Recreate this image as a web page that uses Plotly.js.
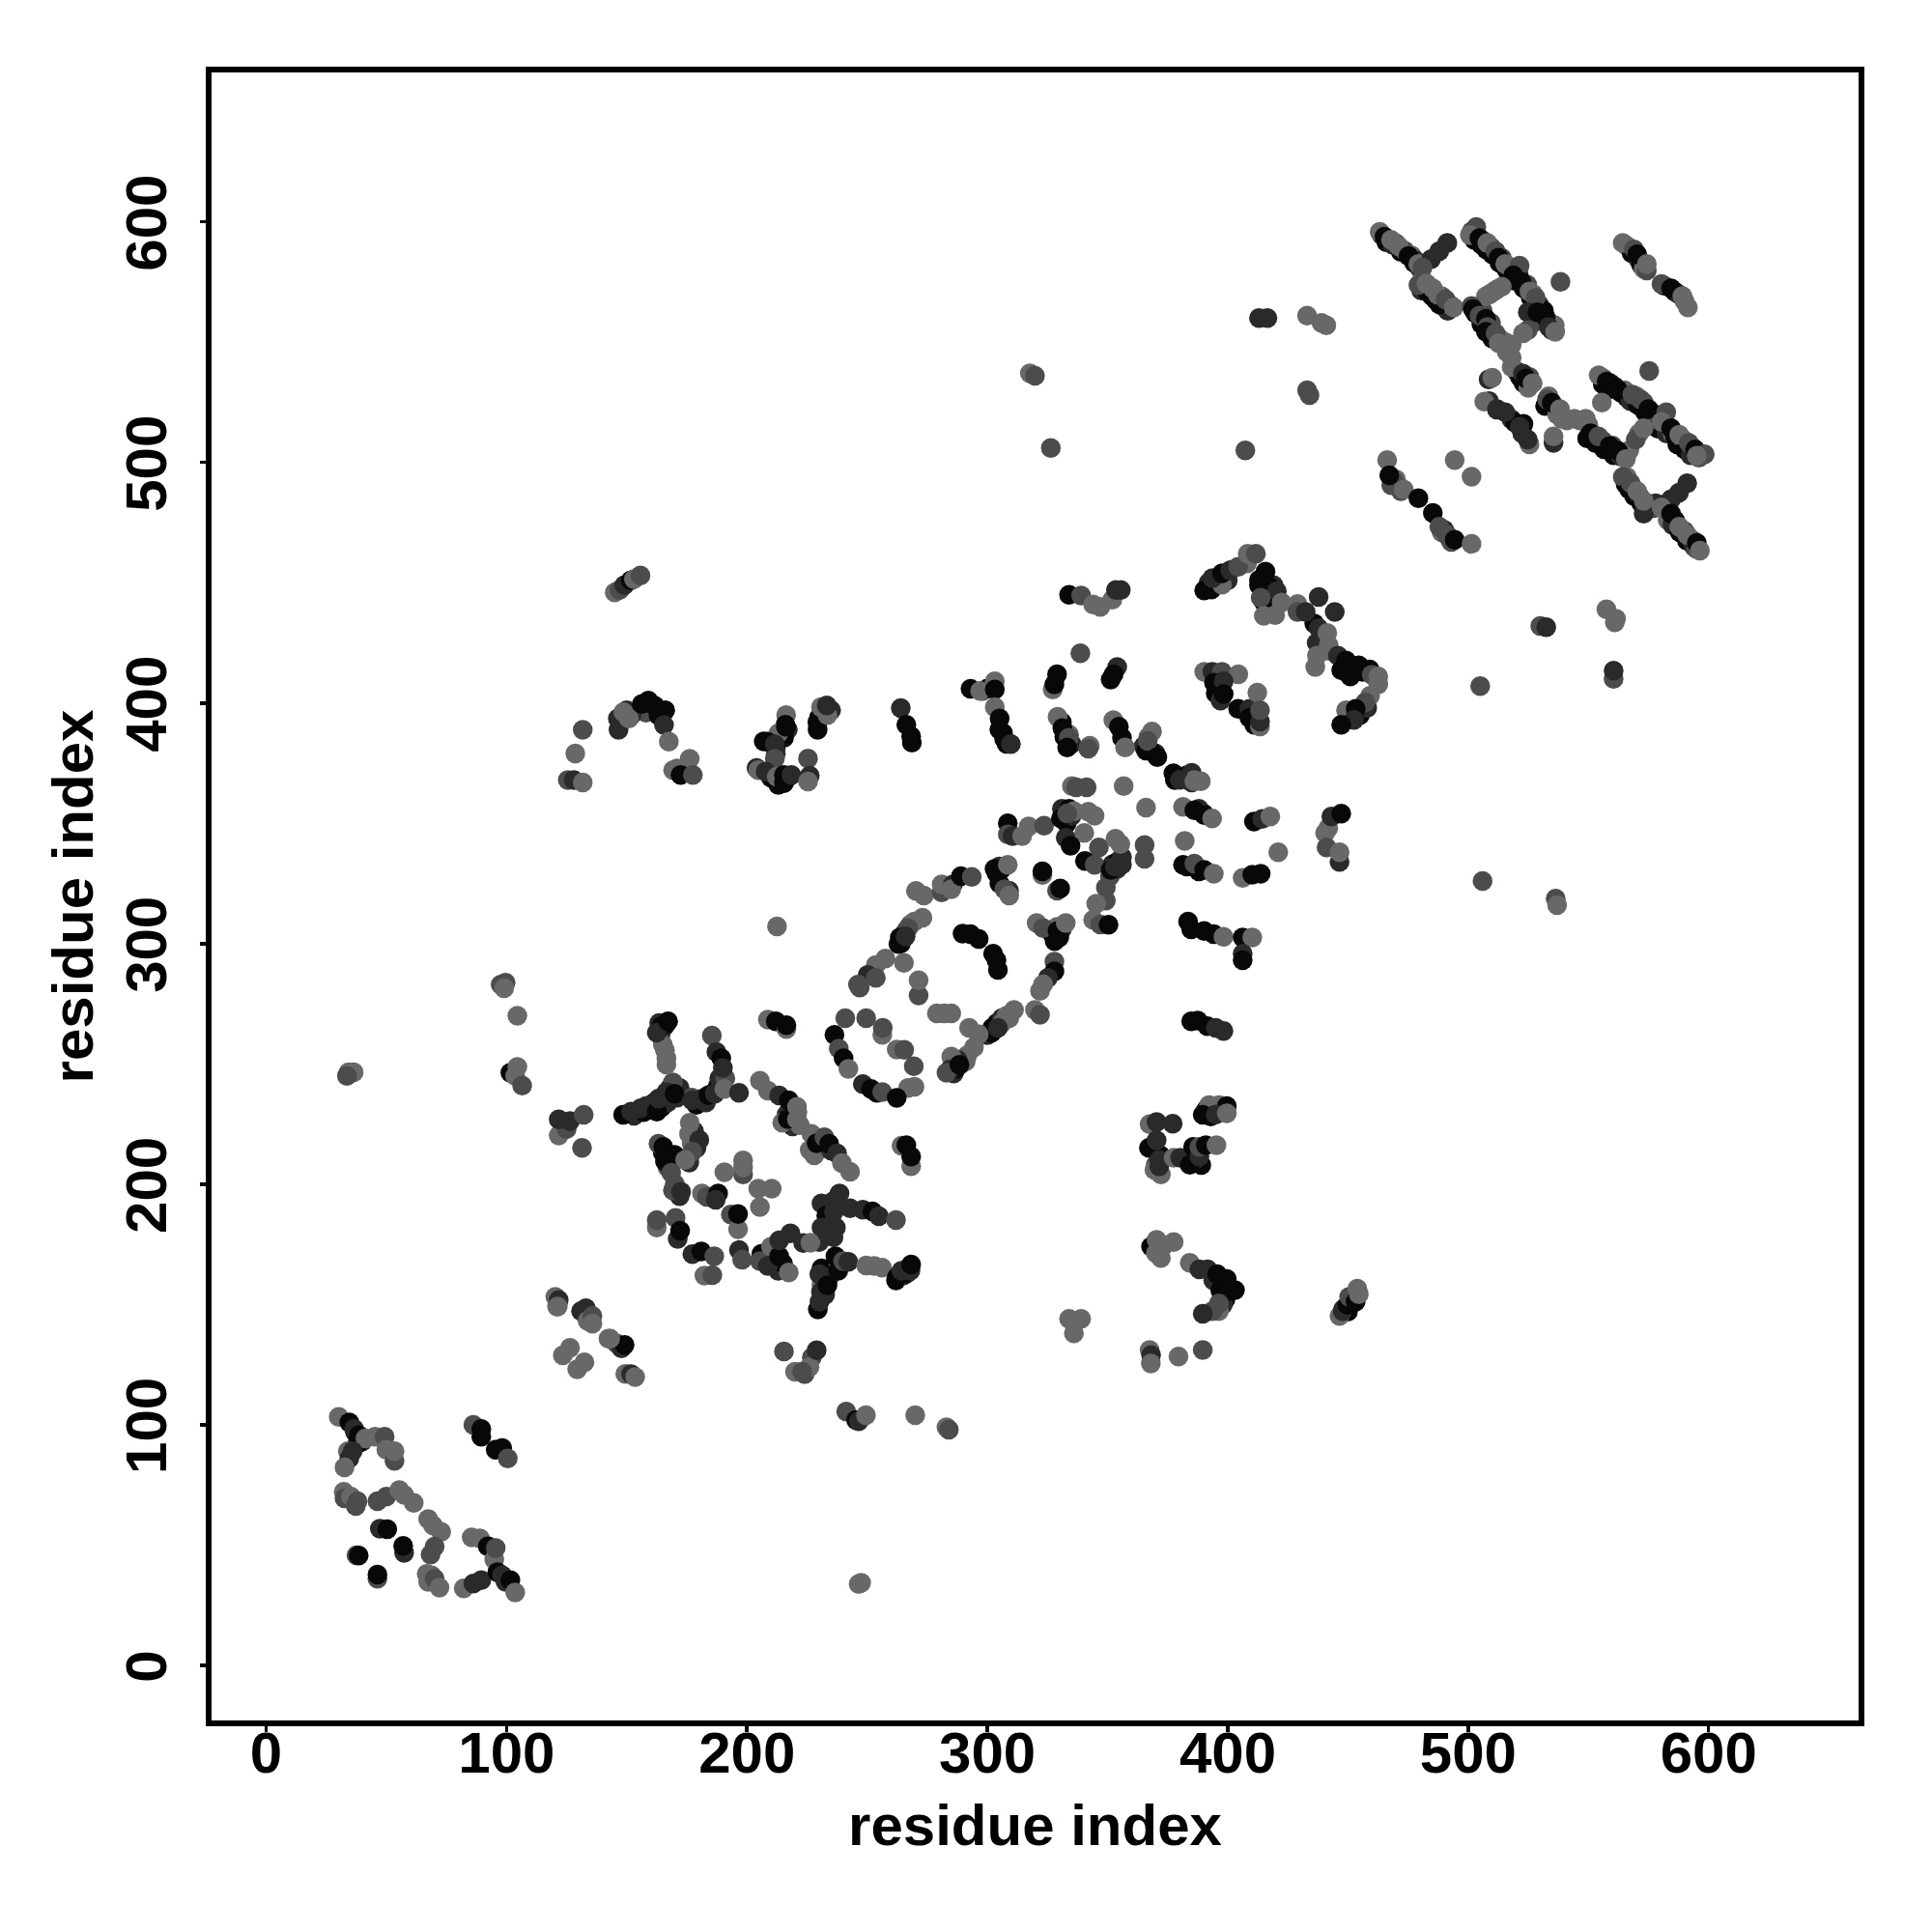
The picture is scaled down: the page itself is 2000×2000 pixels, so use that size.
<!DOCTYPE html>
<html><head><meta charset="utf-8">
<script src="https://cdn.plot.ly/plotly-3.0.1.min.js"></script>
<style>html,body{margin:0;padding:0;background:#fff}</style></head>
<body><div id="chart" style="width:2000px;height:2000px"></div>
<script>
// each entry: residue i, residue j, shade index (0 black .. 3 grey)
const shadeColors = ['#080808','#2a2a2a','#4c4c4c','#686868'];
const xTicks = [0,100,200,300,400,500,600];
const yTicks = [0,100,200,300,400,500,600];
const denseLower = [
[37,97,0],[40,93,1],[38,92,0],[153,228.5,1],[157,230,0],[158,232.5,1],[160,231,0],[161.5,234,0],[164.5,232,0],[165,236,1],[167,234,1],[168,240,0],[171,238,0],[171,236,1],[172,240,1],
[164.5,264,0],[163.5,267,1],[166,266,0],[164,262,1],[165,258,3],[179,233,0],[183,234,1],[186,238,0],[188,241,0],[188.5,244,1],[191,244,2],[177,236,2],
[165,213,0],[167,210,0],[167,207,2],[172,195,1],[170,200,2],[178,222,1],[177,217,3],[179,215,1],[176,209,1],
[218,232,0],[216.5,229,1],[221,230,3],[219,224,1],[222,224.5,3],[230,214.5,1],[232,216,0],[228,212,3],[235,214,1],[231,219,3],
[231,192,1],[235,186,1],[232.5,183,0],[230,176,1],[236,193,1],[233,187,0],[237,182,1],[231,182,1],[236,178,1],
[231,165,0],[232,160,0],[235,165,0],[232.5,154,1],[234,161,1],[238,166,1],[238,168,3],[231,158,3],[262,160,0],[265,162,1],[266.5,163,0],[268,164,1],
[206,171,0],[208,170,0],[211,168,0],[213,164,1],[215,167,0]
];
const denseMiddle = [
[264,300,0],[266,305,2],[265,302,1],[268,308,3],[289,250,1],[286,246,1],[287,248,0],[291,251,3],[304,267,0],[306,269,1],[302,265,0],[308,270,3],[300,262,1],
[309,322,1],[305,325,0],[305,332,1],[303,331,0],[329,307,3],[327,304,0],[331,306,1],[328,301,0],[352,333,1],[354,334,0],[351,328,2],[354,331,1],[356,336,1],[333,350,0],[335,353,1],[331,356,1],[334,356,0],[336,355,3],
[391,231,0],[394,230,3],[393,232,1],[397,231,0],[449,413,1],[452,414,0],[451,411,0],[456,413,0],[459,414,0],[413,449,0],[416,446,1],[419,449,1],[415,442,0],[408,458,3],[400,451,1],[396,450,0],[392,450,1],[455,395,0],[451,394,0],[458,398,1],[440,428,3],[437,425,1],[436,433,0],[442,424,3],
[395,404,0],[397,401,1],[411,391,0],[394,410,3],[408,396,1],[385,367,1],[378,368,0],[383,370,0],[385,371,1],[386,368,3],[390,354,0],[388,356,1],[383,332,0],[388,330,0],[370,379,1],[368,380,0],[367,386,3],[365,382,1],
[403,156,0],[398,158,0],[397,160,0],[394,160,1],[399,152,0],[398,150,1],[450,147,0],[451,150,0],[448,148,1],[389,208,0],[385,212,1],[388,214,0],[386,210,1],[369,216,1],[372,212,0],[370,208,2],[369.5,206,3],
[213,385,1],[212,381,1],[210,384,1],[217,389,1],[230,394,0],[232,397,1],[235,397,1],[331,392,0],[332,386,0],[335,383,1],[334,387,3],[298,405,2],[300,406,0],[305,389,0],[307,385,0],[166,397,0],[159,401,0],[158,396,2],[152,395,1],[150,397,1],[207,384,0],[204,373,1],[210,369,0],[213,366,0],[210,371,0]
];
const denseSheets = [
[464,594.5,1],[466,591.5,0],[468.5,590.5,1],[470,591,2],[472,587.5,0],[473.5,588,2],[476.5,586,3],[477.5,583,0],[478,584,1],[480,580.5,1],
[480.5,571.5,1],[481,576,3],[483,571,0],[484,573,2],[485,569,0],[486.5,567.5,0],[489,569,2],[489.5,565,0],[491.5,563,1],[492.5,565.5,3],
[501.5,596,2],[502.5,592.5,0],[505.5,590.5,0],[506.5,592,3],[507.5,588.5,0],[509.5,589.5,2],[510,586.5,0],[513,583,0],[514,585,2],[516,580,0],[517,581.5,3],[519.5,575.5,0],[521,578,1],[523,572.5,0],[524.5,574,2],[526,568.5,0],[527,570,3],[529.5,565.5,1],[530,560,0],[531.5,563,0],[534,558,0],[534.8,555,1],[536,557,3],[527,558,2],
[512,572,3],[509,570,2],[503,562,0],[505.5,557.5,0],[506,563,2],[509,555,0],[509.5,558,2],[510,551.5,0],[513,551.5,2],[515.5,550,3],[516,546,3],[520,538,1],[521.5,535.5,0],[523,533,0],[525.5,535.5,2],[525,531,3],
[532,523.5,0],[533.5,527.5,3],[536,523,0],[537,520,3],[541,517.5,3],[546.5,517.5,3],[550,515.5,3],[549.5,510,0],[552,511,1],[553,508,0],[556,509,2],[556.5,505.5,0],[560,507,2],[560.5,503,0],[563.5,502.5,1],[564.5,504,3],[567,505,3],[571,512,3],
[512,522,0],[518,518,1],[519.5,516.5,0],[522.5,512,1],[523,516,0],
[556,535,2],[556,532.5,0],[559,533,1],[559.5,530.5,0],[561,531.5,0],[563.5,529,0],[565,530,3],[566,527,0],[567.5,525.5,1],[570,527.5,3],[570.5,524,0],[573,525,2],[573.5,521,0],[576,521,0],[578.5,518.5,2],[579,514,0],[582,516,0],[582.5,512,1],[585,512,3],[586,511,0],[587,507.5,0],[589.5,509.5,3],[590,505.5,0],[593,506.5,3],[592.5,503,1],[596,502,2],
[565.5,491,0],[566,494,3],[568.5,489.5,1],[569,486,0],[571.5,485.5,1],[572,483,0],[574,482,3],[575.5,481.5,2],[577,481,2],[578,483,1],[581.5,482.5,1],[586,476,0],[583,476,3],[585,474,1],[588,471,0],[590,471.5,2],[591,467.5,0],[593,468,3],[594,465,1],[595,464,2],
[566,590,3],[568,587,0],[571,584,1],[572,582,0],[573,580.5,3],[581.5,573.5,0],[586,571,0],[587.5,570,1],[590,567,3],[468,490.5,2],[471,490,3],[472,488,2],[489,471,3],[490,472,1],[492.5,468,0],[493,467,2],[470,493,3]
];
const lowerLeft = [
[30.2,103.3,3],[34.6,101,0],[36.6,98.3,1],[38.6,95.7,0],[41.3,94.3,3],[45.3,95,3],[49.3,95,2],[34,89,3],[36,89,1],[34.6,86,1],[32.6,82.3,3],[50,89.6,3],[53.4,85,2],[53.4,89,3],
[86.2,100,2],[89.5,95,0],[89.5,98.3,0],[95.5,89.6,0],[98.2,90.3,0],[100.5,86,2],
[32.3,72.2,3],[32.6,69.5,2],[35.3,70.2,3],[37.3,66.2,2],[38,68.2,2],[46.3,68.2,2],[50,70.2,2],[55.4,72.9,3],[57.4,70.9,3],[61.4,67.5,3],[67.4,60.8,3],[69.4,58.2,3],[72.8,55.5,3],[68.4,46.1,2],[70.1,49.4,2],
[47.3,56.8,1],[50.4,56.6,0],[57.4,46.8,1],[57,49.7,0],[37.6,45.8,2],[38.5,45.7,0],[46.3,36,2],[46.3,37.7,0],
[66.8,38,3],[68.8,37.4,3],[67.4,34.7,3],[70.1,36,2],[72.1,32.3,3],[82.2,32,3],[86.2,34,1],[89.5,35.4,1],[85.5,53.2,3],[88.9,52.8,3],[92.2,49.5,0],[94.9,44,3],[95.5,48.8,2],[96.2,38.7,0],[98.2,37.4,1],[99.6,34.7,1],[101.6,35.4,0],[103.6,30.3,3]
];
const upperLow = [
[126.4,132,3],[123.4,128.9,3],[132.4,126,3],[129.4,123.1,3],[149.4,121.1,3],[151.8,121,1],[153.5,119.8,3],
[142.4,135.8,3],[145.8,133.8,2],[147.8,131.8,1],[149.1,133.2,0],[121,149.2,3],[120.3,153.2,3],[121.7,151.9,1],[121.3,149.2,3],
[131,147.2,1],[133,148.5,1],[133.7,143.2,3],[135.7,145.2,2],[135.7,142,3],[143.1,135.8,3],
[215.4,130.5,2],[220,122,3],[224,121,2],[227,128,2],[226,124,3],[223,122,2],[229,131,1],
[241.3,105.5,2],[245.4,102,0],[246.5,101.5,1],[249.5,104,3],[270,104,3],[283,99,3],[284,98,2],[246.5,33.8,3],[247.5,34.3,3],
[334,144,3],[339,144,3],[336,138,3],[97.6,283,2],[99.6,283.8,2],[99,281.5,3],[104.5,270,3],[34.3,246.5,3],[36.4,246.5,3],[33.6,245,2]
];
const ringLeft = [
[101.6,246.3,0],[104.5,248.7,3],[103.6,245,3],[106.5,241,2],
[121.7,220.2,3],[123,222,3],[125,222.9,2],[121.7,226.9,1],[126.4,226.2,1],[132.1,228.9,2],[131.4,215.1,2],
[148.5,228.9,0],[151.8,230.2,1],[155.8,231.6,1],[159.8,232.9,1],[162.5,230.2,0],[163.2,235.6,1],[169.2,242.3,2],[166.5,238.3,1],[169.9,237.6,0],
[164.5,265.7,0],[162.5,263,1],[167.2,267.7,0],[166.5,249.7,3],[166.5,252.3,3],[165.9,255.7,3],
[185.4,261.8,2],[187.3,255,1],[189.3,252.3,0],[190,248.3,1],[177.2,234.9,1],[181.3,235.6,1],[184,237,0],[186.6,237.6,1],[190.6,239.6,3],[196.7,238,1],
[208.7,268.4,3],[212,267.7,0],[216.4,264.5,3],[216.4,266.1,0],
[205.4,243,3],[208.7,238.9,3],[213.4,236.9,1],[217.4,234.9,0],[214.7,225.5,3],[217,227,0],[220.8,226.9,3],[220.8,232.2,3],
[226.8,220.9,3],[226.1,214.2,3],[229,217,0],[232.2,219.5,2],[234.2,216.8,0],[237.5,212.8,1],[239.5,208.8,3],[242.9,205.2,3],
[176.2,225.5,3],[175.9,220.9,3],[180.2,218.4,1],[177.3,213.5,2],[163.2,216.8,2],[165.2,215.5,0],[165.9,209.5,0],[169.9,212.2,0],[174.3,210.1,3],[168.5,204.8,2],[169.2,197.4,2],[172.6,196.8,1],
[181.3,196.1,3],[183.3,194.7,2],[188,196.1,0],[187,193.5,1],[198.4,204.1,2],[198.4,207,3],[198.4,209.9,3],[190.6,205,3],[204.7,198.1,3],[210.3,198.1,3],[205.4,190.5,3],[193.3,187.4,2],[196.3,181.3,3],[196.3,187.6,0],
[162.5,182,3],[162.5,185.1,2],[170.3,186,2],[171.2,177.3,1],[172.2,180.7,0],[177.3,170.9,1],[181,172,0],[186.4,170,2],[182.3,162,3],[185.6,162.2,2],
[196.7,172.6,1],[198,168.6,2],[205.4,168,2],[210,174,3],[208.7,166,1],[213.4,170,0],[217.4,163.3,3],[213.4,176.7,1],[218.1,179.6,1],[223.4,175.6,1],[226.4,175.7,3],
[238.5,196.1,1],[233.5,179.3,1],[235.5,183.4,1],[236.2,188.7,1],[242.9,190,1],[248.2,189.4,1],[252.2,188.7,0],[254.9,186.7,1],[262,185.1,2],
[229.5,147.9,0],[230.2,151.2,1],[230.8,155.2,1],[230.1,162.6,1],[233.5,158,0],[236.8,170,0],[238,164,0],[240,168,2],[242.2,167.7,1],[249.6,166.2,3],[252.9,166,3],[256.2,165.3,3],[262.3,161.3,0],[264.3,164,1],[268.3,166.6,0],
[264.3,216,3],[266.3,216.2,0],[268.3,207.5,3],[268.3,211.5,0],[212.5,307.2,3]
];
const helixMiddle = [
[240.9,269,2],[249.6,269,2],[236.4,262.1,0],[238.2,256.4,2],[240.2,252.3,0],[242.2,247.9,3],[256.3,262.1,3],[256.5,265,2],[262.3,256,3],[265.4,255.9,2],[269.4,249,2],[269.7,240.5,3],[267,240,3],[248.2,241.6,1],[251.6,239.6,0],[254,238,0],[256.3,238.3,2],[262.3,235.9,0],
[273,310.8,3],[269.6,309.2,3],[267,306.5,2],[263.6,302.5,0],[263,299.8,0],[266,303,1],[257.6,293.8,3],[253.6,291.1,3],[265.3,292,3],[250.2,287,1],[246.2,283,2],[253.6,285.8,2],[246.9,281.8,2],
[271.4,278.4,2],[271.4,284.8,3],[279,271,3],[285,271,3],[282,271,3],
[270.3,321.9,3],[273.6,320,3],[281,321.3,2],[281,324.6,3],[285.7,324.6,1],[285,322.6,3],[289,328,0],[293.5,327.7,2],
[289.7,304.1,0],[293,303.9,0],[296.4,301.9,0],[302.4,295.8,0],[303.8,293.1,0],[304.4,289.1,0],
[327.9,292.5,2],[327.9,288.5,0],[325.2,285.8,1],[323.2,283.1,3],[321.9,280.4,3],[319.8,272.4,3],[321.9,270.4,2],
[311.1,272.4,3],[309.1,269,3],[306,267,3],[301.8,263,0],[304.4,265,1],[292.4,265,3],[296.4,262.3,3],[294.4,256.9,3],[291.7,253.6,3],[287.7,251.6,1],[285,253,3],[284.4,247.6,1],[283,246.3,2],[288.4,249.6,0],
[320.5,308.6,3],[323.2,306.5,2],[329.2,305.2,0],[329.9,302.5,0],[332.6,308.6,3],
[349.3,323.3,2],[349.3,317.9,2],[345.3,316.6,3],[344,309.9,3],[347,308,2],[350.4,307.9,0],
[308.5,350,0],[308.5,345.4,2],[310.5,344.7,1],[314.5,344.7,3],[317.2,348.7,3],[323.6,349,2],
[303.8,329.3,0],[306,331,0],[308.5,332.7,3],[307.1,322.6,2],[309.1,320,3],[322.9,328.5,3],[322.9,330,0],[329,322,2],[330.3,322.9,0],
[335.2,365.5,3],[337,365,2],[341.3,365,2],[342,354.8,3],[344.6,353.1,3],[330.6,352,0],[333.2,354.1,2],[340.3,346,3],[346.4,340,2],[353.3,343.6,3],[355.3,341.4,3],[332.6,344,1],[334.6,340.7,0],[340.6,334.4,0],[344.6,332.7,2],[351.3,330.6,0],[353,332,1],[356,332.9,1],
[356.7,365.5,3],[366,356.5,3],[365.4,335.3,2],[365.4,341,2]
];
const topBand = [
[216.3,395,3],[216,391,0],[215.4,385.6,0],[212,378.9,1],[225.4,376.9,2],[226.1,369.8,1],[218,369.8,1],[214.7,369.2,0],[215.4,366.8,0],
[131.7,388.9,2],[128.6,379,3],[125.5,368,2],[128,368,1],[131.7,367,3],
[146.6,388.9,1],[146.3,393.6,1],[150.9,393.6,3],[148.6,396.2,3],[156.3,399.6,0],[161.6,398.9,0],[163.2,394.9,0],[165.5,390.9,1],[167.5,383.9,3],[176.2,376.8,3],[170.9,372.8,3],[169.3,372.1,3],[172.4,370.1,0],[177.5,370.1,2],
[213.1,387.5,3],[216.2,390.2,0],[208.5,383.9,0],[211.6,382.8,1],[211.6,376.8,2],[204.7,372.1,3],[207.8,371.5,1],[212.4,369.4,3],[215.4,366.8,0],[215.4,370.1,0],[218.5,370.1,1],[225.4,367.4,3],
[229.3,392,0],[229.4,388.9,0],[230.8,398.3,3],[233.5,395,3],[233.2,399,1],
[264,397.9,1],[266.3,391,0],[268.3,386.2,0],[268.6,383.5,0],
[293,405.9,0],[297,405,3],[303.1,409,3],[303.1,405.6,0],[303.1,398.3,3],[305.1,393.6,0],[306.5,387.6,0],[308,383,0],[309.8,382.9,1],
[327.2,405.6,3],[329,412,0],[327.9,407.7,0],[329.2,394.3,3],[331.2,389.6,0],[333.9,385.6,2],[333.2,381.5,0],[342.6,382.2,3],[342,381,2],
[354,415,1],[352.5,412,0],[351.3,409.7,0],[352.4,392.9,3],[354.7,390.2,0],[356,385.6,0],[357.3,381.5,3],
[334,445,0],[339,444.7,2],[344,441,3],[347,440,3],[352,443,3],[353.5,447,1],[355.5,447,1],[338.7,420.7,2]
];
const rightBand = [
[366,380.2,0],[368.5,388.2,3],[366.7,384.2,2],[370.7,377.5,0],[377.4,370.8,0],[380.1,368.1,1],[386.1,367.5,3],[388.8,367.5,3],
[381.4,356.8,3],[386.1,355.4,0],[390.2,353.4,0],[393.5,352,3],[382.1,342.7,3],[381.4,332.7,0],[386.1,333.3,2],[390.2,330.6,0],[394.2,329,3],
[406.2,327.3,3],[410.2,328.6,0],[410.9,350.7,0],[414.3,351.8,1],[417.7,352.8,3],[421,338,3],[413.7,329,0],
[383.5,309.2,0],[384.8,305.9,0],[390.2,305.2,0],[394.2,303.9,0],[398.2,302.8,3],[406.2,302.5,0],[410.2,302.5,3],[406.2,295.8,1],[406.2,293.1,0],
[384.8,267.7,0],[387.5,268,0],[391.5,265.7,0],[395,265,1],[398.2,263.7,1],
[392.2,232.9,3],[396.3,232.9,3],[399.6,232.5,0],[389.6,228.9,0],[392.9,228.2,0],[395,229,1],[399.6,229.5,3],
[367.5,224.9,3],[370.4,225.8,1],[377.1,225.1,1],[367.2,215.1,0],[370.4,218.2,1],[372.2,204.1,3],[371.5,207.4,1],[371.5,210.1,1],[377.5,211,3],[380.2,211,1],[384.2,208.1,0],[385.6,215.5,0],[388.2,211.5,1],[388.2,215.5,2],[390.9,216.2,0],[395.3,216.2,3],
[368.1,174,0],[370.4,176.9,3],[370.1,171.3,3],[372.2,169.3,3],[373.5,174.6,3],[377.5,176,3],
[384.2,167.3,3],[388.2,164.6,1],[391.6,164.6,1],[395.6,162.6,0],[399.6,160.6,0],[396.9,155.9,0],[400.3,155.5,0],[396.3,147.2,3],[396.3,150.5,2],[393.6,147.2,2],[389.6,146.1,1],
[446.5,145.2,3],[447.8,147.2,1],[449.8,149.9,0],[450.5,153.2,2],[453.2,151.2,0],[453.9,156.6,3],[454.5,154.3,3],
[367.5,131.1,3],[368.1,129,1],[368,125.5,3],[379.5,128.4,3],[389.6,131.1,2]
];
const arcUpper = [
[390.2,446.8,0],[393.2,447.2,0],[397.6,449.2,3],[393.6,451.9,1],[397.6,453.9,0],[401,455.2,1],[404.3,456.6,2],[408.3,462,3],[411.7,462,2],[413,451.2,0],[415.7,454.6,0],[417,448.5,0],[420.4,446.5,1],[413.7,443.8,2],[415,436.2,3],[419.7,436.5,3],[422.4,441.8,3],[429,441.2,3],[429,437.8,2],[432.4,437.8,1],[437.8,444.1,1],[444.5,437.8,1],[437.8,431.1,1],[441.4,429.1,3],[436.4,415,3],[437.1,419.7,3],[441.8,421.7,3],[445.8,419.7,1],[447.2,413.7,0],[449.2,417.7,0],[454.5,415.7,0],[459.9,411.7,2],[462.6,411,3],[462.6,407.7,3],[459.2,403,3],[457.2,400.3,2],[449.2,397,3],[453.2,397.6,0],[452.5,393,1],[447.2,391,0],
[390.2,413,3],[393.6,413,1],[397.6,413,2],[404.4,412,3],[394.3,408.4,0],[398.3,409,1],[398.3,403.7,0],[404.3,397.6,0],[409,397.6,1],[409,393.9,0],[412.3,404.3,3],[413.4,390.3,3],[413.4,392.3,1],[413.4,397,2],
[441.8,348,3],[440.5,346,3],[441.1,340,2],[443.1,352.8,1],[447.2,354,0],[446.5,334,1],[446.5,338,3],
[433,530,2],[434,528,2],[407.3,505,2],[326.4,506,2],[317.7,537,3],[319.8,536,2],[413,560,1],[416.5,560,1],[433,561,3],[439,558,3],[441,557,3],
[530,432,2],[532.5,431.5,1],[557.5,439,3],[561.5,435,3],[561,433.5,3],[505,407,2],[560.5,410,2],[560.5,413.5,1],[506,326,2],[536.4,318.7,2],[537,316,3],
[145,446,3],[147,447,2],[149,449,1],[151.7,451,0],[153,451.5,3],[155.7,453,2]
];
const sheetsTop = [
[463.2,595.8,3],[465.2,593.8,0],[467.9,592.5,3],[471.2,589.8,3],[475.2,585.8,0],[479.3,582.5,3],[491.3,591.2,1],[488,587.8,1],[484.6,584.5,1],[481,581,2],
[479.3,573.8,2],[482.6,574.4,3],[485.3,572.4,3],[488,565.7,0],[487.3,569.7,3],[490.6,567.7,2],[494,564.4,3],
[503.4,597.9,2],[500.7,594.5,3],[504.7,593.2,0],[508,591.2,3],[511.4,587.8,2],[512.7,585.1,0],[515.4,582.5,3],[521.4,581.8,2],[518.8,577.8,0],[522.1,575.1,0],[525.5,571.1,3],[528.1,568.4,2],[524.8,562.4,1],[528.8,562.4,0],[532.2,560.4,0],[533.5,556.3,1],[524.8,555,2],[522.8,553.7,3],[536.2,554.3,3],
[538.4,575.1,2],[507.4,569,3],[510.7,571.1,3],[514,573.1,3],
[501.4,565,2],[502,563.7,0],[504.7,561,2],[507.4,559.7,0],[508,556.3,2],[507.4,554.3,0],[511.4,553.7,2],[512.7,549.6,3],[518.1,549,3],[518.1,543.6,3],[518.1,539.6,3],[522.8,536.9,1],[524.1,534.9,0],[526.8,532.9,3],[508.5,534.5,1],[510,535.2,3],
[508.7,525.5,1],[506.7,525.3,3],[512,522.2,1],[515.4,520.9,1],[521.4,514.8,1],[525.5,507.5,3],[524.8,509.5,1],[535.5,508.1,1],[535.5,510.8,3],
[532.8,526.2,2],[534.8,524.9,0],[538.2,522.2,3],[538.9,518.2,3],[544.2,518.2,3],[548.9,518.2,3],[555.6,524.9,3],
[550.9,512.1,0],[554.2,510.8,2],[558.9,506.8,0],[562.3,504.8,0],[565.6,501.4,3],[569.7,509.5,2],[573,514.2,3],[575.3,538,2],
[554.3,536.2,3],[557.6,533.6,0],[562.3,530.2,0],[568.3,528.2,2],[571.7,526.2,2],[575,522.2,0],[582.4,520.9,2],[580.4,516.8,3],[584.4,514.2,0],[587.8,511.5,3],[591.8,508.1,2],[594.4,505.4,0],[598.4,503.4,2],[595.1,502.8,3]
];
const sheetsLow = [
[564.3,494,2],[567,488.7,0],[567.6,491.4,2],[570.3,488,3],[573,478.7,1],[573,484,3],[591.1,491.4,1],[587.7,487.4,1],[584.4,484.7,1],[580.4,481.3,3],[584.4,478.7,0],[587.8,473.3,3],[591.1,469.9,3],[595.1,466.6,0],[596.4,463.3,3],
[564.3,591.2,3],[569,588.5,2],[570.3,586.5,0],[574.3,579.8,2],[574.3,582.5,3],[580.4,574.2,2],[584.4,572.4,0],[589.1,569.1,3],[591.4,564.4,3],
[466.3,501,3],[494.4,501,3],[501.4,494.1,3],[469.2,492,2],[467.2,494.7,0],[473.2,488.7,3],[479.3,485.1,0],[485.3,479,0],[488,473.3,2],[491.3,469.9,2],[494.4,467.9,0],[501.4,466.2,3]
];
const groups = [denseLower, denseMiddle, denseSheets, lowerLeft, upperLow, ringLeft, helixMiddle, topBand, rightBand, arcUpper, sheetsTop, sheetsLow];
const traces = groups.map(g => ({
  type:'scatter', mode:'markers', showlegend:false, hoverinfo:'skip',
  x:g.map(p=>p[0]), y:g.map(p=>p[1]),
  marker:{size:20.5, color:g.map(p=>shadeColors[p[2]]), line:{width:0}}
}));
const fontFam = '"Liberation Sans", Arial, sans-serif';
const layout = {
  width:2000, height:2000, showlegend:false,
  paper_bgcolor:'#fff', plot_bgcolor:'#fff',
  margin:{l:219,r:76,t:74.5,b:219,pad:0},
  font:{family:fontFam,color:'#000'},
  xaxis:{range:[-22.7,662.4],tickmode:'array',tickvals:xTicks,ticktext:xTicks.map(String),
    ticks:'outside',ticklen:6,tickwidth:3.5,tickcolor:'#000',showgrid:false,zeroline:false,
    showline:true,mirror:true,linecolor:'#000',linewidth:6,ticklabelstandoff:-30,
    tickfont:{family:fontFam,size:60,color:'#000',weight:700},
    title:{text:'<b>residue index</b>',font:{family:fontFam,size:60,color:'#000'},standoff:23}},
  yaxis:{range:[-22.9,662.1],tickmode:'array',tickvals:yTicks,ticktext:yTicks.map(String),
    ticks:'outside',ticklen:6,tickwidth:3.5,tickcolor:'#000',showgrid:false,zeroline:false,tickangle:-90,
    showline:true,mirror:true,linecolor:'#000',linewidth:6,ticklabelstandoff:11,ticklabelshift:10,
    tickfont:{family:fontFam,size:60,color:'#000',weight:700},
    title:{text:'<b>residue index</b>',font:{family:fontFam,size:60,color:'#000'},standoff:4}}
};
Plotly.newPlot('chart',traces,layout,{displayModeBar:false,staticPlot:true});
</script></body></html>
